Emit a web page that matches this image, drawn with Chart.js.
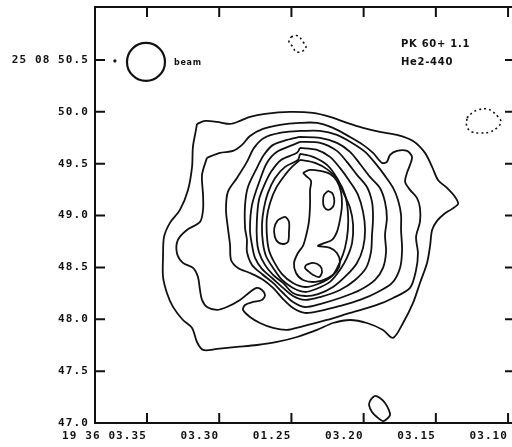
<!DOCTYPE html>
<html>
<head>
<meta charset="utf-8">
<script src="https://cdn.jsdelivr.net/npm/chart.js@4"></script>
<style>
html,body{margin:0;padding:0;background:#fff;overflow:hidden;}
#wrap{position:relative;width:520px;height:447px;}
</style>
</head>
<body>
<div id="wrap"><canvas id="c"></canvas></div>
<script>
// Axes: right ascension (seconds of time) and declination (arcsec)
const raTicks = [3.35, 3.30, 3.25, 3.20, 3.15, 3.10];
const raTickLabels = ['19 36 03.35', '03.30', '01.25', '03.20', '03.15', '03.10'];
const decTicks = [47.0, 47.5, 48.0, 48.5, 49.0, 49.5, 50.0, 50.5];
const decTickLabels = ['47.0', '47.5', '48.0', '48.5', '49.0', '49.5', '50.0', '25 08 50.5'];

// Closed contours, outermost level first: [ra, dec] vertices
const level1 = [[3.3154,49.883],[3.3098,49.912],[3.3015,49.903],[3.2925,49.883],[3.2856,49.912],[3.2787,49.951],[3.2683,49.980],[3.2510,49.999],[3.2351,49.989],[3.2233,49.951],[3.2115,49.893],[3.2004,49.845],[3.1887,49.806],[3.1769,49.777],[3.1658,49.719],[3.1575,49.604],[3.1526,49.469],[3.1485,49.343],[3.1423,49.266],[3.1367,49.179],[3.1346,49.112],[3.1388,49.064],[3.1443,49.015],[3.1492,48.948],[3.1526,48.861],[3.1540,48.707],[3.1561,48.543],[3.1610,48.350],[3.1658,48.157],[3.1727,47.964],[3.1797,47.820],[3.1866,47.897],[3.1977,47.964],[3.2094,47.993],[3.2212,47.964],[3.2323,47.897],[3.2461,47.829],[3.2600,47.781],[3.2738,47.752],[3.2877,47.733],[3.3015,47.714],[3.3112,47.704],[3.3154,47.781],[3.3188,47.916],[3.3251,47.993],[3.3320,48.119],[3.3362,48.254],[3.3389,48.408],[3.3389,48.601],[3.3382,48.794],[3.3341,48.929],[3.3272,49.054],[3.3216,49.247],[3.3188,49.469],[3.3182,49.662],[3.3161,49.825]];
const level2 = [[3.3085,49.556],[3.2995,49.604],[3.2904,49.623],[3.2842,49.681],[3.2787,49.767],[3.2697,49.835],[3.2579,49.874],[3.2441,49.893],[3.2323,49.893],[3.2212,49.845],[3.2094,49.757],[3.2004,49.681],[3.1935,49.604],[3.1873,49.507],[3.1839,49.517],[3.1817,49.585],[3.1769,49.623],[3.1700,49.623],[3.1665,49.565],[3.1679,49.488],[3.1700,49.411],[3.1713,49.324],[3.1679,49.247],[3.1631,49.170],[3.1610,49.073],[3.1610,48.939],[3.1637,48.793],[3.1624,48.639],[3.1637,48.475],[3.1679,48.302],[3.1796,48.205],[3.1908,48.138],[3.2094,48.061],[3.2254,47.993],[3.2441,47.925],[3.2531,47.897],[3.2627,47.916],[3.2718,47.964],[3.2787,48.022],[3.2835,48.090],[3.2821,48.138],[3.2766,48.167],[3.2704,48.186],[3.2683,48.234],[3.2704,48.282],[3.2739,48.302],[3.2787,48.263],[3.2856,48.186],[3.2947,48.118],[3.3016,48.090],[3.3085,48.118],[3.3119,48.186],[3.3133,48.282],[3.3147,48.407],[3.3181,48.495],[3.3251,48.543],[3.3293,48.639],[3.3286,48.765],[3.3224,48.861],[3.3133,48.939],[3.3112,49.054],[3.3112,49.199],[3.3119,49.392]];
const level3 = [[3.2441,49.815],[3.2302,49.815],[3.2185,49.777],[3.2080,49.700],[3.1990,49.614],[3.1921,49.507],[3.1852,49.382],[3.1796,49.266],[3.1762,49.150],[3.1741,49.006],[3.1741,48.861],[3.1734,48.668],[3.1748,48.495],[3.1803,48.350],[3.1901,48.263],[3.2025,48.186],[3.2164,48.128],[3.2302,48.080],[3.2406,48.061],[3.2489,48.109],[3.2558,48.195],[3.2627,48.302],[3.2704,48.388],[3.2787,48.446],[3.2870,48.495],[3.2918,48.572],[3.2925,48.717],[3.2940,48.881],[3.2953,49.054],[3.2940,49.228],[3.2877,49.362],[3.2808,49.517],[3.2759,49.652],[3.2690,49.748],[3.2579,49.796]];
const level4 = [[3.2441,49.757],[3.2302,49.748],[3.2185,49.700],[3.2094,49.614],[3.2025,49.497],[3.1956,49.372],[3.1887,49.266],[3.1852,49.131],[3.1839,48.977],[3.1852,48.813],[3.1845,48.649],[3.1866,48.495],[3.1921,48.379],[3.2025,48.282],[3.2164,48.205],[3.2302,48.147],[3.2406,48.118],[3.2489,48.167],[3.2558,48.253],[3.2627,48.350],[3.2704,48.436],[3.2773,48.524],[3.2808,48.649],[3.2808,48.765],[3.2821,48.881],[3.2821,49.102],[3.2801,49.275],[3.2739,49.459],[3.2690,49.585],[3.2627,49.681],[3.2531,49.729]];
const level5 = [[3.2441,49.710],[3.2302,49.700],[3.2185,49.623],[3.2116,49.517],[3.2046,49.392],[3.1977,49.275],[3.1942,49.131],[3.1935,48.977],[3.1942,48.813],[3.1949,48.649],[3.1983,48.495],[3.2059,48.379],[3.2164,48.282],[3.2302,48.214],[3.2406,48.186],[3.2489,48.224],[3.2558,48.302],[3.2634,48.398],[3.2704,48.485],[3.2752,48.591],[3.2773,48.717],[3.2787,48.861],[3.2773,49.102],[3.2718,49.343],[3.2670,49.507],[3.2600,49.614],[3.2489,49.681]];
const level6 = [[3.2441,49.652],[3.2323,49.633],[3.2233,49.565],[3.2164,49.459],[3.2094,49.324],[3.2039,49.199],[3.2004,49.035],[3.1990,48.861],[3.2004,48.688],[3.2046,48.543],[3.2116,48.427],[3.2212,48.311],[3.2316,48.243],[3.2406,48.224],[3.2489,48.253],[3.2558,48.350],[3.2627,48.427],[3.2683,48.524],[3.2725,48.649],[3.2739,48.765],[3.2739,48.958],[3.2725,49.150],[3.2690,49.285],[3.2641,49.421],[3.2572,49.536],[3.2462,49.604]];
const level7 = [[3.2441,49.594],[3.2350,49.565],[3.2254,49.488],[3.2185,49.362],[3.2143,49.228],[3.2094,49.073],[3.2073,48.910],[3.2080,48.736],[3.2116,48.591],[3.2164,48.475],[3.2233,48.360],[3.2329,48.292],[3.2406,48.263],[3.2489,48.302],[3.2565,48.379],[3.2627,48.495],[3.2676,48.610],[3.2697,48.736],[3.2704,48.910],[3.2690,49.073],[3.2663,49.218],[3.2613,49.362],[3.2544,49.469],[3.2455,49.536]];
const level8 = [[3.2441,49.536],[3.2336,49.507],[3.2247,49.440],[3.2178,49.343],[3.2129,49.199],[3.2109,49.035],[3.2109,48.861],[3.2129,48.688],[3.2164,48.553],[3.2219,48.417],[3.2316,48.340],[3.2406,48.311],[3.2489,48.350],[3.2565,48.436],[3.2620,48.553],[3.2656,48.668],[3.2670,48.813],[3.2670,48.977],[3.2648,49.121],[3.2606,49.266],[3.2544,49.392],[3.2496,49.469]];
const level9 = [[3.2420,49.411],[3.2371,49.440],[3.2302,49.430],[3.2233,49.401],[3.2185,49.333],[3.2157,49.228],[3.2150,49.102],[3.2164,48.958],[3.2185,48.842],[3.2219,48.765],[3.2288,48.726],[3.2316,48.707],[3.2233,48.688],[3.2185,48.639],[3.2164,48.553],[3.2185,48.465],[3.2247,48.398],[3.2336,48.360],[3.2420,48.379],[3.2468,48.446],[3.2482,48.543],[3.2455,48.639],[3.2420,48.707],[3.2399,48.803],[3.2379,48.939],[3.2371,49.102],[3.2371,49.247],[3.2364,49.333],[3.2399,49.382]];
const peakOval = [[3.2247,49.237],[3.2219,49.218],[3.2205,49.170],[3.2205,49.112],[3.2219,49.073],[3.2247,49.054],[3.2274,49.083],[3.2281,49.141],[3.2274,49.199]];
const peakWest = [[3.2593,48.958],[3.2544,48.987],[3.2517,48.939],[3.2517,48.842],[3.2524,48.746],[3.2565,48.726],[3.2606,48.765],[3.2620,48.842],[3.2613,48.910]];
const peakSouth = [[3.2399,48.524],[3.2350,48.543],[3.2302,48.514],[3.2288,48.456],[3.2309,48.407],[3.2350,48.427],[3.2385,48.465],[3.2406,48.495]];
const knotSouth = [[3.1942,47.241],[3.1921,47.261],[3.1887,47.241],[3.1852,47.193],[3.1825,47.125],[3.1817,47.077],[3.1839,47.039],[3.1866,47.019],[3.1908,47.058],[3.1942,47.106],[3.1963,47.174],[3.1956,47.212]];
// negative level (dashed)
const negNorth = [[3.2503,50.722],[3.2455,50.732],[3.2420,50.674],[3.2399,50.626],[3.2420,50.587],[3.2468,50.578],[3.2489,50.626],[3.2517,50.674]];
const negEast = [[3.1285,49.941],[3.1249,49.989],[3.1208,50.018],[3.1146,50.028],[3.1104,49.999],[3.1070,49.951],[3.1049,49.903],[3.1070,49.854],[3.1125,49.806],[3.1194,49.796],[3.1249,49.806],[3.1285,49.854]];
// beam centre and marker
const beamCentre = [3.3507, 50.481];
const markerDot = [3.3722, 50.490];

const solidContours = [level1, level2, level3, level4, level5, level6, level7, level8, level9, peakOval, peakWest, peakSouth, knotSouth];
const dashedContours = [negNorth, negEast];

function ring(pts) {
  const d = pts.map(p => ({x: p[0], y: p[1]}));
  d.push({x: pts[0][0], y: pts[0][1]});
  return d;
}

const INK = '#111111';
const datasets = [];
solidContours.forEach(pts => datasets.push({
  data: ring(pts), showLine: true, borderColor: INK, borderWidth: 1.8,
  pointRadius: 0, tension: 0.3, fill: false
}));
dashedContours.forEach(pts => datasets.push({
  data: ring(pts), showLine: true, borderColor: INK, borderWidth: 1.6,
  borderDash: [2, 3], pointRadius: 0, tension: 0.4, fill: false
}));
datasets.push({
  data: [{x: beamCentre[0], y: beamCentre[1]}], showLine: false,
  pointRadius: 19, pointBorderWidth: 2.2, pointBorderColor: INK,
  pointBackgroundColor: 'rgba(0,0,0,0)'
});
datasets.push({
  data: [{x: markerDot[0], y: markerDot[1]}], showLine: false,
  pointRadius: 1.6, pointBorderWidth: 0, pointBackgroundColor: INK
});

const notes = [
  {text: 'PK 60+ 1.1', ra: 3.1741, dec: 50.626, size: 10},
  {text: 'He2-440', ra: 3.1741, dec: 50.452, size: 10},
  {text: 'beam', ra: 3.3313, dec: 50.447, size: 8}
];

const tickFont = {family: '"DejaVu Sans Mono", monospace', size: 11, weight: 'bold'};

const spacing = {
  id: 'spacing',
  beforeLayout(chart) { chart.ctx.letterSpacing = '1.1px'; },
  beforeDraw(chart) { chart.ctx.letterSpacing = '1.1px'; }
};

// the plot box is fixed, so label overhang must not shrink it
function fixBox(s, key, size) {
  s[key] = size;
  s.paddingLeft = 0; s.paddingRight = 0; s.paddingTop = 0; s.paddingBottom = 0;
}

const frame = {
  id: 'frame',
  afterDatasetsDraw(chart) {
    const {ctx, chartArea: a, scales: {x, y}} = chart;
    const len = 10;
    ctx.save();
    ctx.strokeStyle = INK;
    ctx.lineWidth = 2;
    ctx.lineCap = 'butt';
    ctx.beginPath();
    raTicks.forEach(v => {
      const px = x.getPixelForValue(v);
      ctx.moveTo(px, a.bottom); ctx.lineTo(px, a.bottom - len);
      ctx.moveTo(px, a.top); ctx.lineTo(px, a.top + len);
    });
    decTicks.forEach(v => {
      const py = y.getPixelForValue(v);
      ctx.moveTo(a.left, py); ctx.lineTo(a.left + len, py);
      ctx.moveTo(a.right, py); ctx.lineTo(a.right - len, py);
    });
    ctx.stroke();
    ctx.strokeRect(a.left, a.top, a.right - a.left, a.bottom - a.top);
    // annotations
    ctx.fillStyle = INK;
    ctx.textAlign = 'left';
    ctx.textBaseline = 'alphabetic';
    ctx.letterSpacing = '0.7px';
    notes.forEach(n => {
      ctx.font = 'bold ' + n.size + 'px "DejaVu Sans", sans-serif';
      ctx.fillText(n.text, x.getPixelForValue(n.ra), y.getPixelForValue(n.dec));
    });
    ctx.restore();
  }
};

new Chart(document.getElementById('c'), {
  type: 'scatter',
  data: {datasets},
  options: {
    responsive: true,
    maintainAspectRatio: false,
    animation: false,
    events: [],
    devicePixelRatio: 1,
    layout: {autoPadding: false, padding: {top: 7, right: 5, bottom: 0, left: 0}},
    plugins: {legend: {display: false}, tooltip: {enabled: false}},
    scales: {
      x: {
        type: 'linear', reverse: true, min: 3.0952, max: 3.386,
        grid: {display: false, drawTicks: false},
        border: {display: false},
        afterBuildTicks: s => { s.ticks = raTicks.map(v => ({value: v})); },
        afterFit: s => fixBox(s, 'height', 24),
        ticks: {
          autoSkip: false, maxRotation: 0, minRotation: 0, align: 'end', padding: 7,
          color: INK, font: tickFont,
          callback: (v, i) => raTickLabels[i]
        }
      },
      y: {
        type: 'linear', min: 47.0, max: 51.01,
        grid: {display: false, drawTicks: false},
        border: {display: false},
        afterBuildTicks: s => { s.ticks = decTicks.map(v => ({value: v})); },
        afterFit: s => fixBox(s, 'width', 95),
        ticks: {
          autoSkip: false, padding: 6, color: INK, font: tickFont,
          callback: (v, i) => decTickLabels[i]
        }
      }
    }
  },
  plugins: [spacing, frame]
});
</script>
</body>
</html>
